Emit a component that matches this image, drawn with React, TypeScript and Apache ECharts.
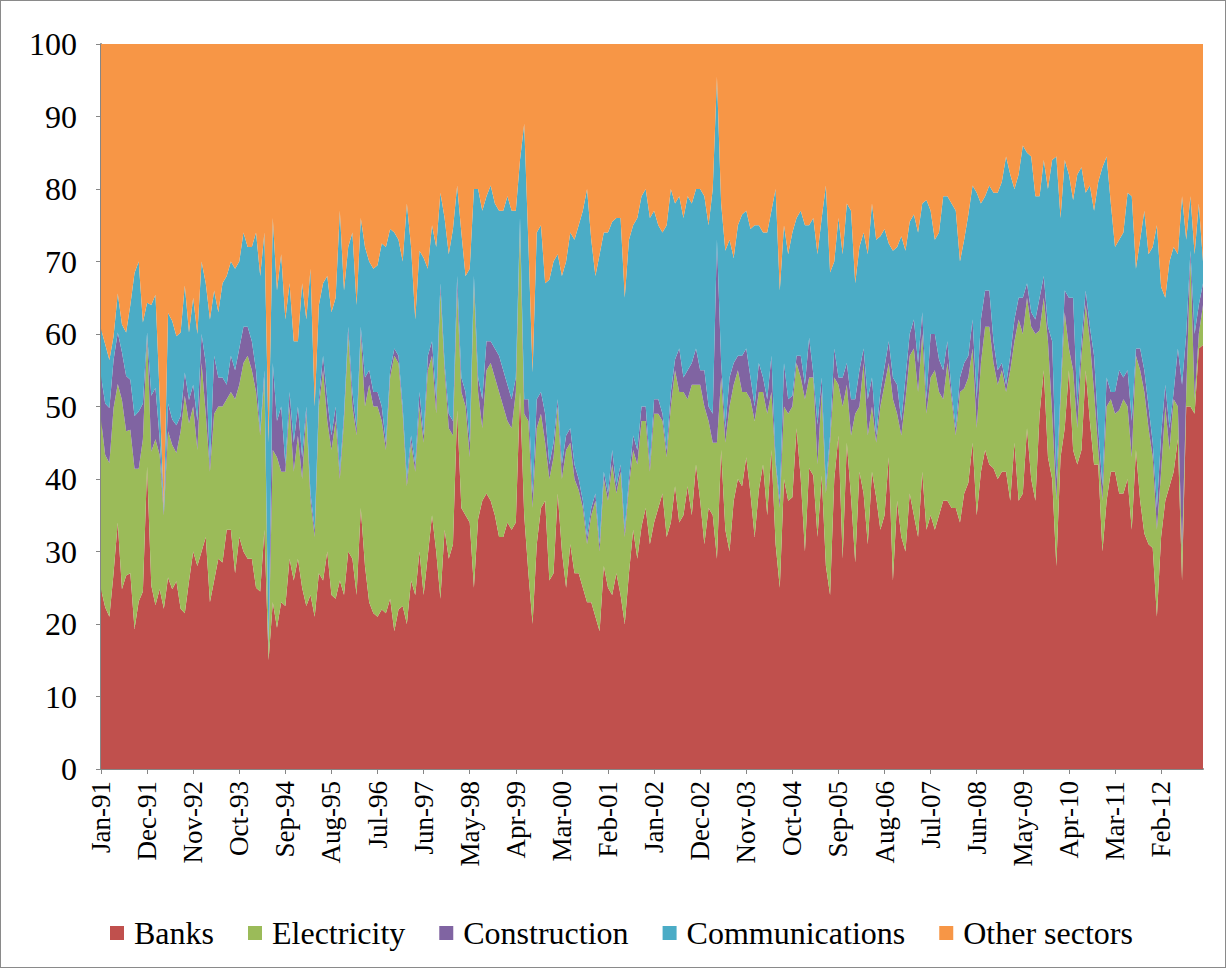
import React, { useEffect, useRef } from "react";
import * as echarts from "echarts";

// Month categories Jan-91 .. Dec-12
const monthNames = ["Jan", "Feb", "Mar", "Apr", "May", "Jun", "Jul", "Aug", "Sep", "Oct", "Nov", "Dec"];
const years = ["91", "92", "93", "94", "95", "96", "97", "98", "99", "00", "01", "02", "03", "04", "05", "06", "07", "08", "09", "10", "11", "12"];
const categories: string[] = [];
years.forEach((y) => monthNames.forEach((m) => categories.push(m + "-" + y)));

// Cumulative upper edge of each layer (percent)
const banksTop = [
  24.8, 22.3, 21, 27, 34, 24.8, 26.7, 27, 19.3, 23.1, 24.5, 41.7, 25.3, 22.6, 24.8, 22.1, 26.4, 24.8, 25.9, 22.1, 21.5, 25.9,
  30, 28, 30, 32, 23, 26, 29, 28.5, 33, 33, 27, 32, 30, 29, 29, 25, 24.5, 33, 15, 23, 19.5, 23,
  22.5, 29, 26, 29, 25, 22.5, 24, 21, 27, 26, 30, 24, 23.5, 26, 24, 30, 29, 24, 36, 28, 23, 21.5,
  21, 22, 21.5, 23.5, 19, 22, 22.5, 20, 26, 24, 30, 24, 29.5, 35, 30, 23.5, 33, 29, 31, 49.5, 36, 35,
  34, 25, 34.5, 37, 38, 37, 35, 32, 32, 34, 33, 34, 52, 35, 27, 20, 31, 36, 37, 26, 27, 38,
  30, 25, 31, 27, 27, 25, 23, 23, 21, 19, 28, 25, 24, 27, 24, 20, 27, 33, 29, 33.5, 36, 31,
  34, 36, 38, 32, 34, 39, 34, 35, 39, 35, 42, 37, 31, 36, 35, 29, 44, 33, 30, 37, 40, 39,
  43, 38, 32, 38.5, 42, 35, 44, 31, 25, 40, 37, 37.5, 47, 40, 30, 41.5, 40.5, 32, 40.5, 28, 24, 40,
  46, 29, 45, 37.5, 28.5, 41, 38, 31, 41, 37.5, 33, 35, 43, 26, 37, 32, 30, 38, 35, 32, 41, 33,
  35, 33, 35, 37, 37, 36, 36, 34, 38, 39.5, 45, 35, 41, 44, 42, 41.5, 40, 41, 41, 37, 45, 37,
  38, 47, 40, 37, 49, 55, 43, 40, 28, 43, 47, 55, 44, 42, 44, 55, 48, 42, 42, 30, 37, 41,
  41, 38, 38, 40, 33, 44, 37, 32.5, 31, 30.5, 21, 32, 37, 39, 41, 45.5, 26, 50, 50, 49, 58, 58.5,
];
const electricityTop = [
  48.2, 43.3, 42.2, 49.8, 53.1, 50.9, 46.6, 46.8, 41.4, 41.4, 45.5, 59.7, 43.8, 45.5, 43.3, 35, 46.6, 44.7, 43.6, 46.6, 51.5, 47.7,
  50, 44, 56, 49, 41, 49, 50, 50, 51, 52, 51, 53, 56, 57, 55, 52, 46, 54, 16.5, 44, 43, 41,
  41, 50, 41, 46, 40, 49, 37, 32, 50, 55, 48, 44, 48, 40, 48, 60, 50, 46, 60, 50, 53, 50,
  50, 48, 44, 54, 57, 56, 49, 39, 45, 41, 50, 45, 55, 57, 49, 66, 55, 47, 46, 66, 52, 50,
  43, 67, 52, 47, 55, 56, 54, 52, 50, 48, 47, 52, 75, 49, 48, 36, 47, 49, 45, 40, 43, 50,
  40, 44, 45, 40, 38.5, 36, 31, 35, 37, 30, 40, 37, 42, 38, 41, 32, 39, 44, 42, 48, 48, 41,
  49, 49, 48, 43, 50, 55, 52, 52, 51, 53, 53, 53, 50, 48, 45, 45, 54, 45, 50, 53, 55, 52,
  52, 51, 48, 52, 52, 49, 52, 42, 36, 50, 49, 50, 56, 54, 51, 54, 54, 42, 52, 38, 45, 54,
  53, 50, 53, 46, 49, 50, 56, 46, 50, 45, 50, 53, 56, 51, 49, 46, 51, 57, 58, 52, 60, 49,
  54, 55, 52, 51, 56, 51, 46, 52, 52.5, 54, 58, 47, 56, 61, 61, 56, 53, 55, 52, 55, 59, 62,
  60, 65, 61, 60, 60.5, 65, 59, 49, 37, 51, 63, 58, 55, 47, 57, 64, 59, 52, 44, 37, 50, 51,
  49, 49.5, 51, 50, 43, 57, 55, 52, 47, 43, 33, 41, 50, 44, 51, 50, 30, 52, 70.5, 51, 60, 64,
];
const constructionTop = [
  54.2, 50.4, 49.8, 56.4, 60.2, 57.5, 54.2, 53.7, 48.7, 49.3, 50.4, 60.2, 51.5, 52.6, 45.5, 35.5, 50.4, 48.2, 47.4, 48.7, 54.7, 50.9,
  53, 48, 60, 56, 42, 57, 54, 54, 53, 57, 55, 58, 61, 61, 59, 55, 46.5, 55, 17, 56, 48, 50,
  42, 52, 45, 50, 43, 50, 38, 33, 51, 57, 51, 46, 50, 41, 49, 61, 52, 47, 61, 54, 55, 52,
  52, 50, 45, 55, 58, 57, 50, 40, 46, 42, 52, 46, 57, 59, 51, 67, 56, 49, 48, 68, 54, 52,
  45, 68, 54, 51, 59, 59, 58, 57, 55, 53, 51, 54, 76, 51, 51, 38, 51, 52, 49, 42, 45, 51,
  42, 46, 47, 42, 40, 37, 32, 36, 38, 31, 41, 38, 44, 39, 42, 33, 40, 46, 44, 50, 50, 42,
  51, 51, 49, 44, 52, 56.5, 58, 54, 55, 56, 58, 55, 55, 50, 49, 73, 56, 47, 54, 56, 57, 57,
  58, 54, 50, 56, 54, 51, 57, 42.5, 37, 56, 51, 51.5, 57, 57, 53, 59.5, 54.5, 47.5, 54, 39, 46, 58,
  54, 54, 56, 51, 51, 55, 58, 51, 54, 46, 52, 55.5, 59, 54, 53, 48, 54, 60, 62, 56, 63, 51,
  60, 60, 56.5, 55, 59, 52, 47, 54, 56, 57, 62, 51, 62, 66, 66, 59, 55, 56, 53, 57, 62, 65,
  65, 67, 63, 62, 65, 68, 61, 59, 40, 52, 66, 65, 65, 50, 59, 66, 61, 57, 47, 39, 54, 52,
  52, 55, 54, 55, 48, 58, 58, 55, 50, 45, 36, 46, 53, 47, 52, 58, 53, 60, 71.5, 60, 64, 67,
];
const communicationsTop = [
  60.7, 58.6, 56.4, 59.7, 65.6, 61.3, 60.2, 64, 68.4, 70, 61.6, 64.3, 64, 65.4, 51.5, 36, 62.9, 61.8, 59.7, 60.2, 66.7, 60.2,
  65, 60, 70, 67, 62, 66, 63, 67, 68, 70, 69, 70, 74, 72, 72, 74, 68, 74, 45, 76, 66, 71,
  62, 67, 59, 59, 67, 62, 69, 50, 64, 67, 68, 63, 65, 77, 66, 72, 74, 64, 76, 72, 70, 69,
  69.5, 72.5, 72, 74.5, 74, 73, 70, 78, 72, 62, 71.5, 70.5, 69, 75, 72, 79.5, 76, 71, 74.5, 80.5, 74, 68,
  69, 80, 80, 77, 79, 80.5, 78, 77, 77, 79, 77, 77, 84, 89, 72.5, 54.7, 74, 75, 67, 67.5, 70, 71,
  68, 70, 74, 73, 75, 77, 80, 73, 68, 71, 74, 74, 75.5, 76, 76, 65, 73, 75, 76, 79, 80, 76,
  77, 75, 74, 75, 80, 78, 79, 76, 79, 78, 80, 80, 79, 75, 80, 95.5, 78, 71.5, 73, 70.5, 75, 76.5,
  77, 74.5, 75, 75, 74, 74, 77, 80, 66, 75, 71, 74, 76, 77, 75, 75, 76, 71, 76, 80.5, 68.5, 70,
  76, 71, 78, 77, 67, 72, 74, 71, 78, 73, 73.5, 74.5, 72.5, 71.5, 72, 73.5, 71.5, 75.5, 76.5, 74, 78, 78.5,
  77, 73, 74, 79, 79, 78, 77, 70, 73, 76.5, 80.5, 79.5, 78, 79, 80.5, 79.5, 79.5, 81, 84.5, 82, 80, 82,
  86, 85, 84.5, 79, 79, 84, 80, 84, 84.5, 76, 84, 82, 78.5, 82, 83, 79.5, 80.5, 77, 81, 83, 84.5, 78,
  72, 73, 74, 79.5, 79, 69, 73, 77, 71, 72, 75, 66.5, 65, 70, 72, 71, 79, 73, 79, 71, 78, 70,
];

const seriesNames = ["Banks", "Electricity", "Construction", "Communications", "Other sectors"];
const seriesColors = ["#C0504D", "#9BBB59", "#8064A2", "#4BACC6", "#F79646"];
const yTicks = [0, 10, 20, 30, 40, 50, 60, 70, 80, 90, 100];

const r1 = (v: number) => Math.round(v * 10) / 10;
const banks = banksTop.map((v) => r1(v));
const electricity = electricityTop.map((v, i) => r1(Math.max(0, v - banksTop[i])));
const construction = constructionTop.map((v, i) => r1(Math.max(0, v - electricityTop[i])));
const communications = communicationsTop.map((v, i) => r1(Math.max(0, v - constructionTop[i])));
const otherSectors = communicationsTop.map((v) => r1(100 - v));
const seriesData = [banks, electricity, construction, communications, otherSectors];

const FONT = "'Liberation Serif', 'Times New Roman', serif";

export default function App() {
  const ref = useRef<HTMLDivElement>(null);
  useEffect(() => {
    if (!ref.current) return;
    const chart = echarts.init(ref.current, undefined, { renderer: "svg" });
    chart.setOption({
      animation: false,
      backgroundColor: "#ffffff",
      grid: { left: 100, top: 43, right: 22, bottom: 198, containLabel: false },
      legend: {
        data: seriesNames,
        bottom: 13,
        left: 104,
        icon: "rect",
        itemWidth: 14,
        itemHeight: 14,
        itemGap: 34,
        textStyle: { fontFamily: FONT, fontSize: 32, color: "#000", padding: [0, 0, 0, 5] },
      },
      xAxis: {
        type: "category",
        data: categories,
        boundaryGap: false,
        axisLine: { show: true, lineStyle: { color: "#868686", width: 2 } },
        axisTick: { show: true, interval: 10, length: 5, lineStyle: { color: "#868686" } },
        axisLabel: {
          interval: 10,
          rotate: 90,
          margin: 12,
          fontFamily: FONT,
          fontSize: 27,
          color: "#000",
        },
        splitLine: { show: false },
      },
      yAxis: {
        type: "value",
        min: 0,
        max: 100,
        interval: 10,
        axisLine: { show: true, lineStyle: { color: "#868686", width: 2 } },
        axisTick: { show: true, length: 5, lineStyle: { color: "#868686" } },
        axisLabel: {
          margin: 24,
          fontFamily: FONT,
          fontSize: 32,
          color: "#000",
          formatter: (v: number) => (yTicks.includes(v) ? String(v) : ""),
        },
        splitLine: { show: false },
      },
      series: seriesNames.map((name, k) => ({
        name,
        type: "line",
        stack: "total",
        data: seriesData[k],
        symbol: "none",
        smooth: false,
        lineStyle: { width: 0 },
        areaStyle: { color: seriesColors[k], opacity: 1 },
        itemStyle: { color: seriesColors[k] },
        emphasis: { disabled: true },
      })),
    });
    return () => chart.dispose();
  }, []);
  return (
    <div
      style={{
        position: "absolute",
        left: 0,
        top: 0,
        width: 1226,
        height: 968,
        boxSizing: "border-box",
        border: "1px solid #8a8a8a",
        background: "#fff",
      }}
    >
      <div ref={ref} style={{ width: 1224, height: 966 }} />
    </div>
  );
}
